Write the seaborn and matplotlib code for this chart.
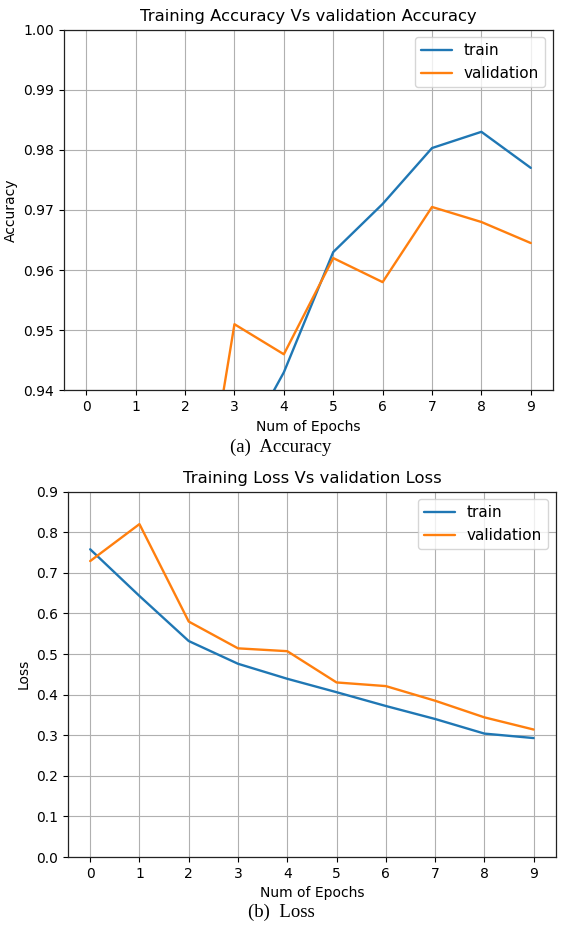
import matplotlib
matplotlib.use('Agg')
from matplotlib import pyplot as plt
import pandas as pd
import seaborn as sns

epochs = [0, 1, 2, 3, 4, 5, 6, 7, 8, 9]
# accuracy values (epochs 0-3 of train and 0-2 of validation fall below the visible range)
train_acc = [0.80, 0.87, 0.91, 0.928, 0.943, 0.963, 0.971, 0.9803, 0.983, 0.977]
val_acc = [0.85, 0.88, 0.901, 0.951, 0.946, 0.962, 0.958, 0.9705, 0.968, 0.9645]
train_loss = [0.758, 0.643, 0.532, 0.476, 0.439, 0.406, 0.372, 0.340, 0.304, 0.293]
val_loss = [0.729, 0.820, 0.580, 0.514, 0.507, 0.430, 0.421, 0.385, 0.344, 0.314]

acc_df = pd.DataFrame({'epoch': epochs * 2,
                       'value': train_acc + val_acc,
                       'set': ['train'] * 10 + ['validation'] * 10})
loss_df = pd.DataFrame({'epoch': epochs * 2,
                        'value': train_loss + val_loss,
                        'set': ['train'] * 10 + ['validation'] * 10})

sns.set_style('ticks')
plt.rcParams['font.family'] = ['DejaVu Sans']
plt.rcParams['text.color'] = 'black'
plt.rcParams['axes.labelcolor'] = 'black'
plt.rcParams['xtick.color'] = 'black'
plt.rcParams['ytick.color'] = 'black'
palette = {'train': '#1f77b4', 'validation': '#ff7f0e'}

fig = plt.figure(figsize=(5.62, 9.25), dpi=100)
ax1 = fig.add_axes([0.114, 0.578, 0.870, 0.390])
ax2 = fig.add_axes([0.121, 0.0735, 0.868, 0.395])

for ax, df, title, ylab, ylim, yticks in [
        (ax1, acc_df, 'Training Accuracy Vs validation Accuracy', 'Accuracy', (0.94, 1.00),
         [0.94, 0.95, 0.96, 0.97, 0.98, 0.99, 1.00]),
        (ax2, loss_df, 'Training Loss Vs validation Loss', 'Loss', (0.0, 0.9),
         [0.0, 0.1, 0.2, 0.3, 0.4, 0.5, 0.6, 0.7, 0.8, 0.9])]:
    sns.lineplot(data=df, x='epoch', y='value', hue='set', palette=palette,
                 linewidth=1.7, ax=ax)
    ax.set_xlim(-0.45, 9.45)
    ax.set_ylim(*ylim)
    ax.set_xticks(epochs)
    ax.set_yticks(yticks)
    if ylab == 'Accuracy':
        ax.set_yticklabels(['%.2f' % t for t in yticks])
    else:
        ax.set_yticklabels(['%.1f' % t for t in yticks])
    ax.grid(True, color='#b0b0b0', linewidth=0.8)
    ax.set_title(title, fontsize=11.8, color='black')
    ax.set_xlabel('Num of Epochs', fontsize=10)
    ax.set_ylabel(ylab, fontsize=10)
    ax.tick_params(labelsize=10, length=3.5, width=0.8)
    for s in ax.spines.values():
        s.set_color('#222222')
        s.set_linewidth(0.9)
    leg = ax.legend(loc='upper right', fontsize=11, frameon=True)
    leg.get_frame().set_edgecolor('#cccccc')

fig.text(0.5, 0.516, '(a)  Accuracy', ha='center', va='center',
         family='Liberation Serif', fontsize=13.5)
fig.text(0.5, 0.014, '(b)  Loss', ha='center', va='center',
         family='Liberation Serif', fontsize=13.5)

fig.savefig('out.png', dpi=100)
